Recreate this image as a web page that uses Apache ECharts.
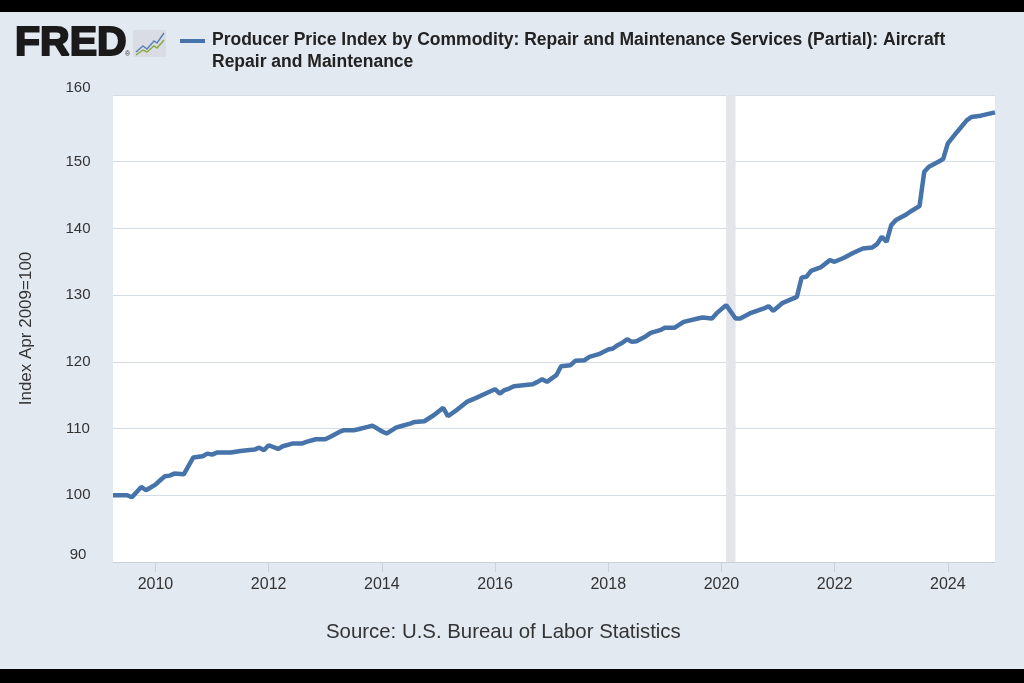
<!DOCTYPE html>
<html>
<head>
    <meta charset="utf-8">
    <script src="https://cdn.jsdelivr.net/npm/echarts@6/dist/echarts.min.js"></script>
    <style>
        html, body { margin: 0; padding: 0; background: #e3e9f1; }
        #main { width: 1024px; height: 683px; }
    </style>
</head>

<body>
    <div id="main"></div>

    <script type="text/javascript">
        // months (key points of the monthly series)
        var months = [
            '2009-04', '2009-07', '2009-08', '2009-10', '2009-11', '2010-01', '2010-02', '2010-03', '2010-04', '2010-05',
            '2010-07', '2010-09', '2010-11', '2010-12', '2011-01', '2011-02', '2011-05', '2011-07', '2011-10', '2011-11',
            '2011-12', '2012-01', '2012-03', '2012-04', '2012-06', '2012-08', '2012-09', '2012-11', '2013-01', '2013-02',
            '2013-04', '2013-05', '2013-07', '2013-08', '2013-10', '2013-11', '2014-01', '2014-02', '2014-04', '2014-05',
            '2014-07', '2014-08', '2014-10', '2014-12', '2015-02', '2015-03', '2015-05', '2015-07', '2015-09', '2015-11',
            '2016-01', '2016-02', '2016-03', '2016-04', '2016-05', '2016-07', '2016-09', '2016-10', '2016-11', '2016-12',
            '2017-02', '2017-03', '2017-05', '2017-06', '2017-08', '2017-09', '2017-11', '2018-01', '2018-02', '2018-03',
            '2018-04', '2018-05', '2018-06', '2018-07', '2018-09', '2018-10', '2018-12', '2019-01', '2019-03', '2019-05',
            '2019-08', '2019-09', '2019-11', '2019-12', '2020-02', '2020-04', '2020-05', '2020-07', '2020-10', '2020-11',
            '2020-12', '2021-02', '2021-03', '2021-05', '2021-06', '2021-07', '2021-08', '2021-10', '2021-12', '2022-01',
            '2022-03', '2022-05', '2022-07', '2022-09', '2022-10', '2022-11', '2022-12', '2023-01', '2023-02', '2023-04',
            '2023-05', '2023-07', '2023-08', '2023-09', '2023-11', '2023-12', '2024-01', '2024-03', '2024-05', '2024-06',
            '2024-08', '2024-11'
        ];

        var index = [
            100.0, 100.0, 99.7, 101.25, 100.75, 101.6, 102.25, 102.85, 102.95, 103.25,
            103.15, 105.65, 105.85, 106.25, 106.1, 106.4, 106.4, 106.65, 106.85, 107.15,
            106.75, 107.5, 106.95, 107.35, 107.75, 107.75, 108.0, 108.4, 108.4, 108.75,
            109.5, 109.75, 109.75, 109.9, 110.25, 110.45, 109.6, 109.25, 110.15, 110.35,
            110.75, 111.0, 111.1, 112.0, 113.1, 111.85, 112.85, 114.0, 114.6, 115.25,
            115.9, 115.25, 115.75, 116.0, 116.35, 116.5, 116.65, 117.0, 117.4, 117.0,
            118.0, 119.35, 119.5, 120.15, 120.25, 120.75, 121.15, 121.85, 122.0, 122.5,
            122.85, 123.4, 123.0, 123.1, 123.85, 124.35, 124.75, 125.1, 125.1, 126.0,
            126.5, 126.65, 126.5, 127.3, 128.5, 126.5, 126.5, 127.25, 128.0, 128.35,
            127.65, 128.85, 129.15, 129.75, 132.65, 132.75, 133.65, 134.15, 135.25, 135.0,
            135.6, 136.35, 137.0, 137.15, 137.65, 138.75, 138.0, 140.5, 141.25, 142.0,
            142.5, 143.35, 148.5, 149.25, 150.0, 150.4, 152.75, 154.5, 156.2, 156.7,
            156.9, 157.4
        ];

        var tickYears = [2010, 2012, 2014, 2016, 2018, 2020, 2022, 2024];
        var recession = ['2020-02', '2020-04'];

        // month string -> fractional year, so the x axis can be a plain value axis
        function toYear(m) {
            var p = m.split('-');
            return +p[0] + (+p[1] - 1) / 12;
        }

        var seriesData = months.map(function(m, i) {
            return [toYear(m), index[i]];
        });

        var myChart = echarts.init(document.getElementById('main'));

        myChart.setOption({
            backgroundColor: '#e3e9f1',
            animation: false,
            textStyle: { fontFamily: 'Liberation Sans, Arial, sans-serif' },
            grid: {
                left: 113,
                right: 29,
                top: 95,
                bottom: 121,
                show: true,
                backgroundColor: '#ffffff',
                borderWidth: 0
            },
            graphic: [
                { type: 'rect', left: 0, top: 0, shape: { width: 1024, height: 12 }, style: { fill: '#000' } },
                { type: 'rect', left: 0, top: 669, shape: { width: 1024, height: 14 }, style: { fill: '#000' } },
                {
                    type: 'text', left: 14, top: 22,
                    style: {
                        text: 'FRED',
                        font: 'bold 41px Liberation Sans',
                        fill: '#1a1a1a',
                        stroke: '#1a1a1a',
                        lineWidth: 2
                    }
                },
                {
                    type: 'text', left: 125, top: 51,
                    style: { text: '®', font: '7px Liberation Sans', fill: '#333' }
                },
                {
                    type: 'group', left: 133, top: 30,
                    children: [
                        { type: 'rect', shape: { x: 0, y: 0, width: 33, height: 27 }, style: { fill: '#d9dde3' } },
                        { type: 'polyline', shape: { points: [[3, 22], [10, 16], [14, 19], [21, 11], [24, 13], [31, 3]] }, style: { stroke: '#5b7fb8', lineWidth: 1.4, fill: null } },
                        { type: 'polyline', shape: { points: [[3, 25], [10, 20], [14, 22], [21, 16], [24, 18], [31, 10]] }, style: { stroke: '#8aa83c', lineWidth: 1.4, fill: null } }
                    ]
                },
                { type: 'rect', left: 180, top: 39, shape: { width: 25, height: 4 }, style: { fill: '#4673a9' } },
                {
                    type: 'text', left: 212, top: 29,
                    style: {
                        text: 'Producer Price Index by Commodity: Repair and Maintenance Services (Partial): Aircraft\nRepair and Maintenance',
                        font: 'bold 17.5px Liberation Sans',
                        lineHeight: 22,
                        fill: '#222'
                    }
                },
                {
                    type: 'text', left: 326, top: 622,
                    style: { text: 'Source: U.S. Bureau of Labor Statistics', font: '20.4px Liberation Sans', fill: '#333' }
                }
            ],
            xAxis: {
                type: 'value',
                min: toYear('2009-04'),
                max: toYear('2024-11'),
                axisLine: { show: true, lineStyle: { color: '#c9d0da', width: 1 } },
                axisTick: {
                    show: true,
                    length: 10,
                    customValues: tickYears,
                    lineStyle: { color: '#c9d0da' }
                },
                axisLabel: {
                    customValues: tickYears,
                    margin: 15,
                    fontSize: 16,
                    color: '#333',
                    formatter: function(v) {
                        return String(Math.round(v));
                    }
                },
                splitLine: { show: false }
            },
            yAxis: {
                type: 'value',
                min: 90,
                max: 160,
                interval: 10,
                name: 'Index Apr 2009=100',
                nameLocation: 'middle',
                nameGap: 78,
                nameTextStyle: { fontSize: 17, color: '#333' },
                axisLine: { show: false },
                axisTick: { show: false },
                axisLabel: {
                    fontSize: 15,
                    color: '#333',
                    align: 'center',
                    margin: 35,
                    verticalAlignMinLabel: 'bottom',
                    verticalAlignMaxLabel: 'bottom'
                },
                splitLine: { show: true, lineStyle: { color: '#d6dce6', width: 1 } }
            },
            series: [{
                type: 'line',
                data: seriesData,
                symbol: 'none',
                silent: true,
                lineStyle: { color: '#4673a9', width: 4.5 },
                markArea: {
                    silent: true,
                    itemStyle: { color: '#e3e5ea' },
                    data: [[{ xAxis: toYear(recession[0]) }, { xAxis: toYear(recession[1]) }]]
                }
            }]
        });
    </script>
</body>

</html>
